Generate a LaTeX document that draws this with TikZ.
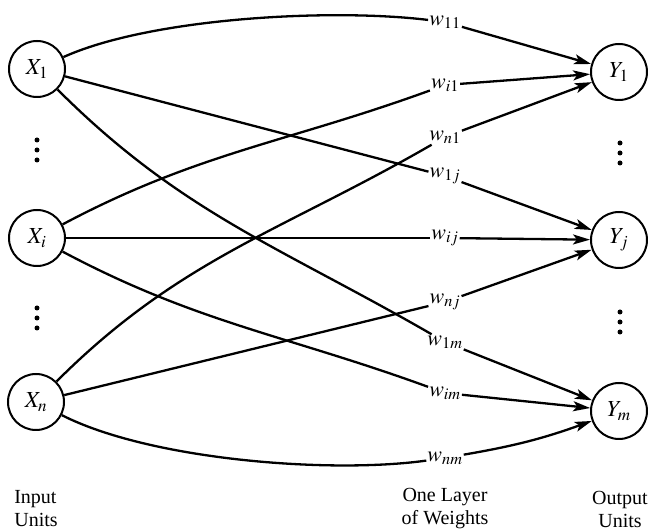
\documentclass[tikz,border=0pt]{standalone}
\usepackage{mathptmx}
\usepackage{fontspec}
\setmainfont{Liberation Serif}
\usetikzlibrary{arrows.meta}
\begin{document}
\begin{tikzpicture}[x=1pt,y=1pt,
  unit/.style={circle,draw,line width=2pt,minimum size=56pt,inner sep=0pt,font=\fontsize{23}{23}\selectfont},
  wlab/.style={inner sep=1pt,font=\fontsize{22}{22}\selectfont},
  conn/.style={line width=2.3pt},
  arr/.style={line width=2.3pt,-{Stealth[length=17pt,width=10pt,inset=4pt]}},
  captxt/.style={align=center,font=\fontsize{20}{23}\selectfont},
  dot/.style={circle,fill,inner sep=0pt,minimum size=5pt}]
\useasboundingbox (0,0) rectangle (648,530);
% units
\node[unit] (X1) at (37,461) {$X_1$};
\node[unit] (Xi) at (37,292) {$X_i$};
\node[unit] (Xn) at (36,128) {$X_n$};
\node[unit] (Y1) at (619,458) {$Y_1$};
\node[unit] (Yj) at (619,290) {$Y_j$};
\node[unit] (Ym) at (619,119) {$Y_m$};
% weight labels
\node[wlab] (w11) at (445,508) {$w_{11}$};
\node[wlab] (wi1) at (445,445) {$w_{i1}$};
\node[wlab] (wn1) at (445,393) {$w_{n1}$};
\node[wlab] (w1j) at (445,354) {$w_{1j}$};
\node[wlab] (wij) at (445,292) {$w_{ij}$};
\node[wlab] (wnj) at (445,228) {$w_{nj}$};
\node[wlab] (w1m) at (445,188) {$w_{1m}$};
\node[wlab] (wim) at (445,137) {$w_{im}$};
\node[wlab] (wnm) at (445,72) {$w_{nm}$};
% dots
\node[dot] (dl1) at (37,390) {};
\node[dot] (dl2) at (37,380) {};
\node[dot] (dl3) at (37,370) {};
\node[dot] (dl4) at (37,222) {};
\node[dot] (dl5) at (37,212) {};
\node[dot] (dl6) at (37,202) {};
\node[dot] (dr1) at (620,387) {};
\node[dot] (dr2) at (620,377) {};
\node[dot] (dr3) at (620,367) {};
\node[dot] (dr4) at (620,218) {};
\node[dot] (dr5) at (620,208) {};
\node[dot] (dr6) at (620,198) {};
% input -> weights
\draw[conn] (X1) .. controls (150,512) and (330,522) .. (w11);
\draw[conn] (X1) -- (w1j);
\draw[conn] (X1) to[out=-45,in=150] (w1m);
\draw[conn] (Xi) to[out=28,in=200] (wi1);
\draw[conn] (Xi) -- (wij);
\draw[conn] (Xi) to[out=-28,in=160] (wim);
\draw[conn] (Xn) to[out=45,in=210] (wn1);
\draw[conn] (Xn) -- (wnj);
\draw[conn] (Xn) .. controls (150,70) and (330,56) .. (wnm);
% weights -> output
\draw[arr] (w11) -- (Y1);
\draw[arr] (wi1) -- (Y1);
\draw[arr] (wn1) -- (Y1);
\draw[arr] (w1j) -- (Yj);
\draw[arr] (wij) -- (Yj);
\draw[arr] (wnj) -- (Yj);
\draw[arr] (w1m) -- (Ym);
\draw[arr] (wim) -- (Ym);
\draw[arr] (wnm) to[bend right=5] (Ym);
% captions
\node[captxt,align=left] (cin) at (36,21) {Input\\Units};
\node[captxt] (cw) at (445,21) {One Layer\\of Weights};
\node[captxt] (cout) at (620,21) {Output\\Units};
\end{tikzpicture}
\end{document}
